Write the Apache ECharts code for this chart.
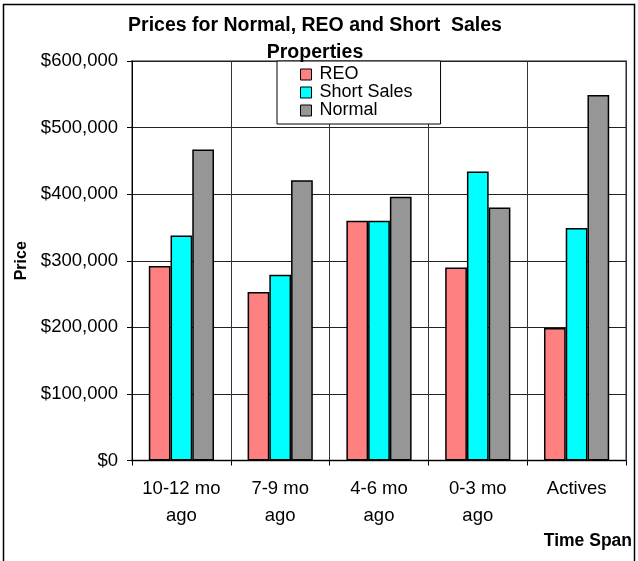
<!DOCTYPE html>
<html>
<head>
<meta charset="utf-8">
<script src="https://cdn.jsdelivr.net/npm/echarts@6/dist/echarts.min.js"></script>
<style>
html,body{margin:0;padding:0;background:#fff;}
#chart{width:638px;height:561px;}
</style>
</head>
<body>
<div id="chart"></div>
<script>
var categories = ['10-12 mo\nago', '7-9 mo\nago', '4-6 mo\nago', '0-3 mo\nago', 'Actives'];
var reo = [292000, 253000, 360000, 290000, 199000];
var shortSales = [338000, 279000, 360000, 434000, 349000];
var normal = [467000, 421000, 396000, 380000, 549000];
var yTicks = [0, 100000, 200000, 300000, 400000, 500000, 600000];

var FONT = 'Arial, "Liberation Sans", sans-serif';
var chart = echarts.init(document.getElementById('chart'), null, {renderer: 'canvas'});

function money(v) {
  return '$' + String(v).replace(/\B(?=(\d{3})+(?!\d))/g, ',');
}

var barStyle = function (c) {
  return {color: c, borderColor: '#000', borderWidth: 1.5};
};

chart.setOption({
  animation: false,
  backgroundColor: '#fff',
  textStyle: {fontFamily: FONT},
  title: {
    text: 'Prices for Normal, REO and Short  Sales\nProperties',
    left: 310,
    textAlign: 'center',
    top: 7,
    textStyle: {fontFamily: FONT, fontSize: 19.5, fontWeight: 'bold', color: '#000', lineHeight: 27}
  },
  legend: {
    orient: 'vertical',
    left: 277,
    top: 61,
    padding: [4.5, 28, 4.5, 23],
    itemGap: 0,
    itemWidth: 11,
    itemHeight: 11,
    icon: 'rect',
    backgroundColor: '#fff',
    borderColor: '#000',
    borderWidth: 1,
    itemStyle: {borderColor: '#000', borderWidth: 1},
    textStyle: {fontFamily: FONT, fontSize: 18, color: '#000', lineHeight: 18, padding: [0, 0, 0, 3]},
    data: ['REO', 'Short Sales', 'Normal']
  },
  grid: {
    left: 132, right: 12, top: 61, bottom: 100.5,
    show: true, borderColor: '#8c8c8c', borderWidth: 2, backgroundColor: 'transparent'
  },
  xAxis: {
    type: 'category',
    data: categories,
    axisLine: {lineStyle: {color: '#000', width: 1}},
    axisTick: {show: true, length: 5, interval: 0, lineStyle: {color: '#000'}},
    splitLine: {show: true, interval: 0, lineStyle: {color: '#333', width: 1}},
    axisLabel: {interval: 0, fontFamily: FONT, fontSize: 18.5, color: '#000', lineHeight: 27, margin: 14.5}
  },
  yAxis: {
    type: 'value',
    min: yTicks[0],
    max: yTicks[yTicks.length - 1],
    interval: 100000,
    name: 'Price',
    nameLocation: 'middle',
    nameGap: 100,
    nameTextStyle: {fontFamily: FONT, fontSize: 16, fontWeight: 'bold', color: '#000'},
    axisLine: {show: true, lineStyle: {color: '#000', width: 1}},
    axisTick: {show: true, inside: false, length: 5, lineStyle: {color: '#000'}},
    splitLine: {show: true, lineStyle: {color: '#222', width: 1}},
    axisLabel: {fontFamily: FONT, fontSize: 18.5, color: '#000', margin: 14, formatter: money}
  },
  series: [
    {name: 'REO', type: 'bar', data: reo, barGap: '0%', barCategoryGap: '34%', itemStyle: barStyle('#FF8080')},
    {name: 'Short Sales', type: 'bar', data: shortSales, barGap: '0%', barCategoryGap: '34%', itemStyle: barStyle('#00FFFF')},
    {name: 'Normal', type: 'bar', data: normal, barGap: '0%', barCategoryGap: '34%', itemStyle: barStyle('#969696')}
  ],
  graphic: [
    {
      type: 'rect',
      shape: {x: 3.5, y: 4.5, width: 631, height: 560},
      style: {fill: 'none', stroke: '#000', lineWidth: 1.5},
      silent: true, z: 100
    },
    {
      type: 'text',
      right: 6,
      top: 532,
      style: {text: 'Time Span', fontFamily: FONT, fontSize: 17.5, fontWeight: 'bold', fill: '#000'}
    }
  ]
});
</script>
</body>
</html>
